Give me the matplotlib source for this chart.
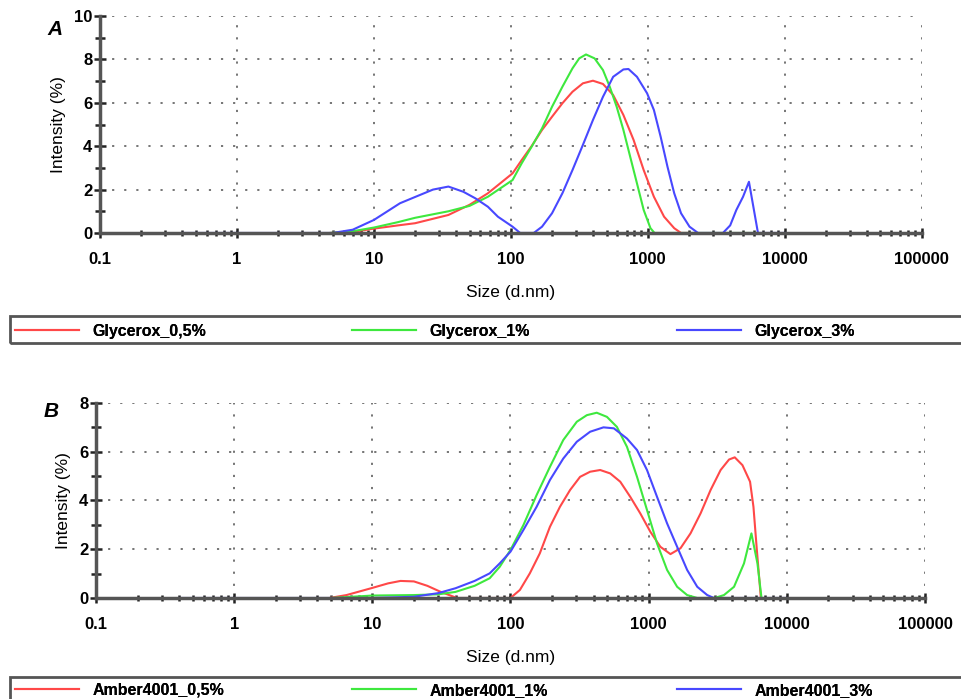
import matplotlib.pyplot as plt
from matplotlib.patches import Rectangle
from matplotlib.ticker import FixedLocator, LogLocator, NullFormatter

plt.rcParams['font.family'] = ['Liberation Sans', 'DejaVu Sans']

RED = "#ff4848"
GREEN = "#3ee83e"
BLUE = "#4848ff"

# Panel A - Glycerox
a_labels = ["Glycerox_0,5%", "Glycerox_1%", "Glycerox_3%"]

a_red_size = [4.8, 7, 10, 15, 20, 35, 50, 68, 103, 120, 142, 169, 200, 238,
              282, 336, 398, 471, 559, 664, 788, 934, 1109, 1316, 1561, 1750,
              2000]
a_red_int = [0, 0.05, 0.2, 0.35, 0.45, 0.83, 1.3, 1.83, 2.75, 3.36, 4.01,
             4.75, 5.36, 5.98, 6.51, 6.9, 7.02, 6.87, 6.36, 5.44, 4.29, 2.9,
             1.67, 0.75, 0.22, 0, 0]

a_green_size = [4.8, 7, 10, 15, 20, 35, 50, 68, 103, 120, 142, 169, 200, 238,
                282, 316, 354, 409, 471, 528, 593, 664, 744, 834, 934, 1047,
                1121, 6200]
a_green_int = [0, 0.08, 0.25, 0.5, 0.7, 1.0, 1.25, 1.67, 2.44, 3.21, 3.98,
               4.82, 5.82, 6.74, 7.59, 8.05, 8.23, 8.05, 7.51, 6.74, 5.82, 4.75,
               3.52, 2.29, 1.06, 0.22, 0, 0]

a_blue_size = [0.4, 5, 7, 10, 15.5, 20, 27, 35, 45, 55, 68, 80.5, 103, 117,
               147, 169, 200, 238, 282, 336, 398, 471, 559, 664, 723, 834, 989,
               1109, 1242, 1393, 1561, 1750, 2019, 2329, 3540, 4000, 4436,
               4966, 5485, 6383, 10000]
a_blue_int = [0, 0, 0.15, 0.6, 1.37, 1.66, 2.0, 2.14, 1.9, 1.6, 1.21, 0.75,
              0.29, 0, 0, 0.29, 0.91, 1.83, 2.9, 4.06, 5.21, 6.28, 7.2, 7.54,
              7.56, 7.2, 6.44, 5.67, 4.44, 3.06, 1.83, 0.91, 0.29, 0, 0, 0.35,
              1.06, 1.67, 2.36, 0, 0]

# Panel B - Amber4001
b_labels = ["Amber4001_0,5%", "Amber4001_1%", "Amber4001_3%"]

b_red_size = [4.9, 6.5, 9.8, 13, 16, 20, 25, 31, 41, 100, 117, 138, 163, 193,
              228, 270, 319, 377, 446, 527, 623, 736, 870, 1028, 1216, 1438,
              1700, 2009, 2376, 2808, 3319, 3818, 4200, 4774, 5420, 5736, 6070,
              6490]
b_red_int = [0, 0.12, 0.4, 0.6, 0.7, 0.68, 0.5, 0.26, 0, 0, 0.33, 1.01, 1.83,
             2.92, 3.74, 4.43, 4.97, 5.18, 5.25, 5.11, 4.77, 4.15, 3.47, 2.72,
             2.1, 1.8, 2.04, 2.65, 3.47, 4.43, 5.25, 5.68, 5.77, 5.45, 4.77,
             3.74, 1.97, 0]

b_green_size = [5, 10, 20, 30, 40, 55, 70.7, 83.6, 100, 124, 154.5, 193, 241,
                302, 357, 421, 499, 589, 697, 824, 973, 1150, 1360, 1608, 1900,
                2248, 3000, 3510, 4150, 4900, 5545, 6130, 6560]
b_green_int = [0, 0.1, 0.12, 0.15, 0.25, 0.5, 0.81, 1.28, 1.97, 2.99, 4.22,
               5.38, 6.48, 7.23, 7.5, 7.6, 7.43, 7.02, 6.2, 4.97, 3.61, 2.24,
               1.15, 0.46, 0.12, 0, 0, 0.12, 0.46, 1.42, 2.65, 1.42, 0]

b_blue_size = [0.4, 10, 20, 30, 40, 55, 70.7, 83.6, 100, 124, 154.5, 193, 241,
               302, 377, 471, 560, 697, 824, 973, 1150, 1360, 1608, 1900, 2248,
               2655, 2970, 10000]
b_blue_int = [0, 0, 0.05, 0.2, 0.4, 0.7, 1.01, 1.42, 1.9, 2.79, 3.74, 4.84,
              5.72, 6.41, 6.82, 7.0, 6.96, 6.54, 6.07, 5.25, 4.15, 3.06, 2.1,
              1.15, 0.46, 0.12, 0, 0]

x_ticks = [0.1, 1, 10, 100, 1000, 10000, 100000]
x_ticklabels = ["0.1", "1", "10", "100", "1000", "10000", "100000"]


def style_axes(ax, ymax):
    ax.set_xscale("log")
    ax.set_xlim(0.1, 100000)
    ax.set_ylim(0, ymax)
    ax.xaxis.set_major_locator(FixedLocator(x_ticks))
    ax.set_xticklabels(x_ticklabels)
    ax.xaxis.set_minor_locator(LogLocator(base=10, subs=range(2, 10)))
    ax.xaxis.set_minor_formatter(NullFormatter())
    ax.set_yticks(range(0, ymax + 1, 2))
    ax.set_yticks(range(1, ymax, 2), minor=True)
    for side in ["top", "right"]:
        ax.spines[side].set_visible(False)
    for side in ["left", "bottom"]:
        ax.spines[side].set_linewidth(2.5)
        ax.spines[side].set_color("#555555")
    ax.grid(True, which="major", color="#6a6a6a", linewidth=1.3,
            linestyle=(0, (1.2, 5.5)))
    ax.tick_params(axis="both", which="both", direction="inout",
                   color="#222222", width=1.8)
    ax.tick_params(axis="y", which="major", length=9, pad=1, labelsize=12)
    ax.tick_params(axis="y", which="minor", length=7)
    ax.tick_params(axis="x", which="major", length=7, pad=10, labelsize=12)
    ax.tick_params(axis="x", which="minor", length=5)
    for lbl in ax.get_xticklabels() + ax.get_yticklabels():
        lbl.set_fontweight("bold")
    ax.set_xlabel("Size (d.nm)", fontsize=12.5, labelpad=13)
    ax.set_ylabel("Intensity (%)", fontsize=12.5, labelpad=6)


fig = plt.figure(figsize=(9.62, 6.99), dpi=100)

ax_a = fig.add_axes([0.104, 0.6667, 0.854, 0.3103])
la = ax_a.plot(a_red_size, a_red_int, color=RED, lw=1.5, label=a_labels[0])
la += ax_a.plot(a_green_size, a_green_int, color=GREEN, lw=1.5, label=a_labels[1])
la += ax_a.plot(a_blue_size, a_blue_int, color=BLUE, lw=1.5, label=a_labels[2])
style_axes(ax_a, 10)

ax_b = fig.add_axes([0.0998, 0.1445, 0.8617, 0.279])
lb = ax_b.plot(b_red_size, b_red_int, color=RED, lw=1.5, label=b_labels[0])
lb += ax_b.plot(b_green_size, b_green_int, color=GREEN, lw=1.5, label=b_labels[1])
lb += ax_b.plot(b_blue_size, b_blue_int, color=BLUE, lw=1.5, label=b_labels[2])
style_axes(ax_b, 8)

fig.text(0.057, 0.958, "A", fontsize=15, fontweight="bold", style="italic",
         ha="center", va="center")
fig.text(0.053, 0.411, "B", fontsize=15, fontweight="bold", style="italic",
         ha="center", va="center")

# legend frames run off the right edge of the figure
fig.add_artist(Rectangle((0.0104, 0.5093), 1.0, 0.0386, transform=fig.transFigure,
                         fill=False, edgecolor="#555555", linewidth=2))
fig.add_artist(Rectangle((0.0104, -0.05), 1.0, 0.0815, transform=fig.transFigure,
                         fill=False, edgecolor="#555555", linewidth=2))

# one legend per entry so each column sits at a fixed place
col_x = [0.0155, 0.3660, 0.7035]
leg_kw = dict(frameon=False, handlelength=4.0, handletextpad=0.85,
              borderpad=0, borderaxespad=0, loc="center left",
              prop={"weight": "bold", "size": 11.5})
for line, x in zip(la, col_x):
    fig.add_artist(fig.legend(handles=[line], bbox_to_anchor=(x, 0.526), **leg_kw))
for line, x in zip(lb, col_x):
    fig.add_artist(fig.legend(handles=[line], bbox_to_anchor=(x, 0.0125), **leg_kw))

fig.savefig("out.png", dpi=100)
